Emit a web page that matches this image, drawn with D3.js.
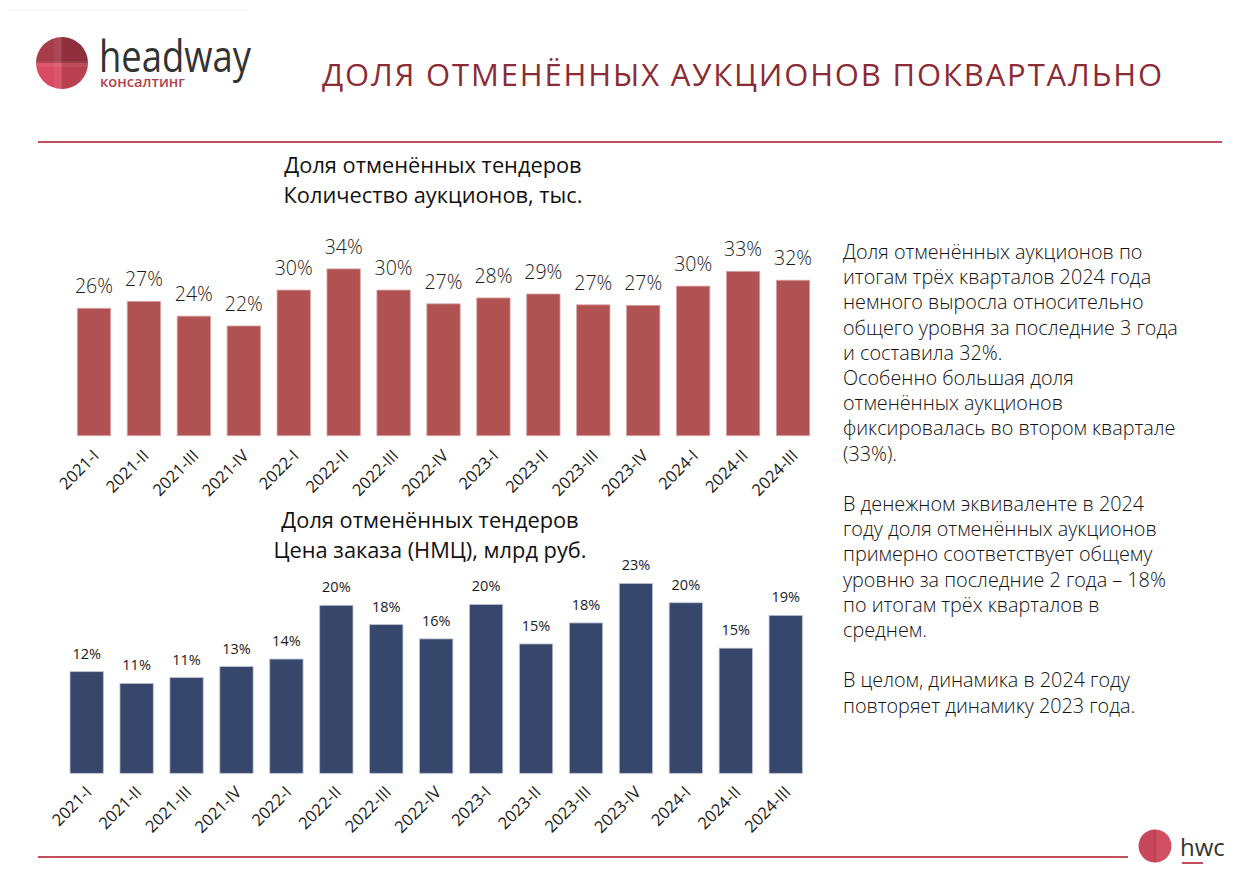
<!DOCTYPE html>
<html>
<head>
<meta charset="utf-8">
<script src="https://cdn.jsdelivr.net/npm/d3@7"></script>
<style>
  body { margin: 0; background: #fff; }
  svg { display: block; font-family: "Open Sans", "Noto Sans", sans-serif; }
  .barLabel { fill: #1a1a1a; text-anchor: middle; }
  .heading { fill: #111; text-anchor: middle; font-size: 21.8px; }
  .note { fill: #111; font-size: 19.8px; font-weight: 300; }
</style>
</head>
<body>
<div id="slide"></div>
<script>
// Доля отменённых аукционов поквартально

// data
var quarters = ["2021-I", "2021-II", "2021-III", "2021-IV",
  "2022-I", "2022-II", "2022-III", "2022-IV",
  "2023-I", "2023-II", "2023-III", "2023-IV",
  "2024-I", "2024-II", "2024-III"];
// share of cancelled auctions by count, %
var shareCount = [25.9, 27.3, 24.3, 22.3, 29.6, 33.9, 29.6, 26.8, 28.0, 28.8, 26.6, 26.5, 30.4, 33.4, 31.6];
// share of cancelled auctions by order price, %
var sharePrice = [12.1, 10.7, 11.4, 12.7, 13.6, 20.0, 17.7, 16.0, 20.1, 15.4, 17.9, 22.6, 20.3, 14.9, 18.8];

var titleText = "ДОЛЯ ОТМЕНЁННЫХ АУКЦИОНОВ ПОКВАРТАЛЬНО";
var topHeading = ["Доля отменённых тендеров", "Количество аукционов, тыс."];
var bottomHeading = ["Доля отменённых тендеров", "Цена заказа (НМЦ), млрд руб."];
var noteLines = [
  "Доля отменённых аукционов по",
  "итогам трёх кварталов 2024 года",
  "немного выросла относительно",
  "общего уровня за последние 3 года",
  "и составила 32%.",
  "Особенно большая доля",
  "отменённых аукционов",
  "фиксировалась во втором квартале",
  "(33%).",
  "",
  "В денежном эквиваленте в 2024",
  "году доля отменённых аукционов",
  "примерно соответствует общему",
  "уровню за последние 2 года – 18%",
  "по итогам трёх кварталов в",
  "среднем.",
  "",
  "В целом, динамика в 2024 году",
  "повторяет динамику 2023 года."
];

var svgWidth = 1247;
var svgHeight = 875;

var svg = d3.select("#slide")
  .append("svg")
  .attr("width", svgWidth)
  .attr("height", svgHeight);

// header: logo, title, rules
//=================================
svg.append("line")
  .attr("x1", 8).attr("x2", 247).attr("y1", 10).attr("y2", 10)
  .attr("stroke", "#eeeeee").attr("stroke-width", 1);

var logo = svg.append("g").attr("transform", "translate(62,63)");
var r = 26;
// four quarters of the logo circle (d3 angles: 0 = 12 o'clock, clockwise)
var quads = [
  { a0: 0, a1: Math.PI / 2, c: "#8f2f3d" },               // top right
  { a0: Math.PI / 2, a1: Math.PI, c: "#b8404f" },         // bottom right
  { a0: Math.PI, a1: Math.PI * 1.5, c: "#d94b62" },       // bottom left
  { a0: Math.PI * 1.5, a1: Math.PI * 2, c: "#a63b4a" }    // top left
];
logo.selectAll("path")
  .data(quads)
  .enter()
  .append("path")
  .attr("d", d => d3.arc()({ innerRadius: 0, outerRadius: r, startAngle: d.a0, endAngle: d.a1 }))
  .attr("fill", d => d.c);
// thin cross bands
logo.append("rect").attr("x", -8).attr("y", -r).attr("width", 7).attr("height", 2 * r)
  .attr("fill", "#ffffff").attr("opacity", 0.07);
logo.append("rect").attr("x", -r).attr("y", -2).attr("width", 2 * r).attr("height", 6)
  .attr("fill", "#ffffff").attr("opacity", 0.07);

svg.append("text")
  .attr("x", 99).attr("y", 72)
  .attr("font-size", 43).attr("font-weight", 500)
  .attr("fill", "#333333")
  .attr("textLength", 152)
  .attr("lengthAdjust", "spacingAndGlyphs")
  .text("headway");
svg.append("text")
  .attr("x", 100).attr("y", 87)
  .attr("font-size", 14).attr("font-weight", 600)
  .attr("fill", "#b23f4e")
  .attr("textLength", 85)
  .attr("lengthAdjust", "spacingAndGlyphs")
  .text("консалтинг");

svg.append("text")
  .attr("x", 322).attr("y", 86)
  .attr("font-size", 31)
  .attr("fill", "#8b2b35")
  .attr("textLength", 840)
  .attr("lengthAdjust", "spacing")
  .text(titleText);

svg.append("line")
  .attr("x1", 38).attr("x2", 1222).attr("y1", 142).attr("y2", 142)
  .attr("stroke", "#c0505c").attr("stroke-width", 2);

svg.append("line")
  .attr("x1", 38).attr("x2", 1128).attr("y1", 857).attr("y2", 857)
  .attr("stroke", "#c0505c").attr("stroke-width", 2);

// hwc logo bottom right
var hwc = svg.append("g").attr("transform", "translate(1155,846)");
hwc.append("path")
  .attr("d", d3.arc()({ innerRadius: 0, outerRadius: 16.5, startAngle: Math.PI, endAngle: Math.PI * 2 }))
  .attr("fill", "#c9475d");
hwc.append("path")
  .attr("d", d3.arc()({ innerRadius: 0, outerRadius: 16.5, startAngle: 0, endAngle: Math.PI }))
  .attr("fill", "#d24f63");
hwc.append("line").attr("x1", 0).attr("x2", 0).attr("y1", -16).attr("y2", 16)
  .attr("stroke", "#a83446").attr("stroke-width", 1);
svg.append("text")
  .attr("x", 1180).attr("y", 856)
  .attr("font-size", 24).attr("fill", "#333333")
  .text("hwc");
svg.append("line")
  .attr("x1", 1182).attr("x2", 1203).attr("y1", 863).attr("y2", 863)
  .attr("stroke", "#c0505c").attr("stroke-width", 2);

// helper to draw one bar chart
//=================================
function drawBars(cfg) {
  var x = d3.scaleBand()
    .domain(quarters)
    .range(cfg.xRange)
    .padding(0.333);

  var y = d3.scaleLinear()
    .domain([0, cfg.yMax])
    .range([cfg.baseline, cfg.baseline - cfg.yMax * cfg.pxPer]);

  var g = svg.append("g");

  g.selectAll("rect")
    .data(cfg.values)
    .enter()
    .append("rect")
    .attr("x", (d, i) => x(quarters[i]))
    .attr("y", d => y(d))
    .attr("width", x.bandwidth())
    .attr("height", d => y(0) - y(d))
    .attr("fill", cfg.color)
    .attr("stroke", cfg.edge)
    .attr("stroke-width", 0.8);

  g.selectAll(".barLabel")
    .data(cfg.values)
    .enter()
    .append("text")
    .attr("class", "barLabel")
    .attr("x", (d, i) => x(quarters[i]) + x.bandwidth() / 2)
    .attr("y", d => y(d) - cfg.labelGap)
    .attr("font-size", cfg.labelSize)
    .attr("font-weight", cfg.labelWeight)
    .text(d => Math.round(d) + "%");

  // rotated category labels
  var axis = d3.axisBottom(x).tickSize(0).tickPadding(0);
  var ax = g.append("g")
    .attr("transform", "translate(0," + cfg.baseline + ")")
    .call(axis);
  ax.select(".domain").remove();
  ax.selectAll(".tick text")
    .attr("font-family", "Open Sans, sans-serif")
    .attr("font-size", 16.5)
    .attr("fill", "#1a1a1a")
    .attr("text-anchor", "end")
    .attr("dy", null)
    .attr("y", 0)
    .attr("transform", "translate(" + cfg.tickDx + "," + cfg.tickDy + ") rotate(-45)");

  // heading
  g.selectAll(".heading")
    .data(cfg.heading)
    .enter()
    .append("text")
    .attr("class", "heading")
    .attr("x", cfg.headX)
    .attr("y", (d, i) => cfg.headY + i * 30)
    .text(d => d);
}

drawBars({
  values: shareCount,
  xRange: [60.7, 826.3],
  baseline: 435.7,
  yMax: 40,
  pxPer: 4.92,
  color: "#b05252",
  edge: "#d9a3a3",
  labelGap: 15,
  labelSize: 19.5,
  labelWeight: 300,
  tickDx: 6,
  tickDy: 21,
  heading: topHeading,
  headX: 433,
  headY: 173
});

drawBars({
  values: sharePrice,
  xRange: [53.4, 819],
  baseline: 773.3,
  yMax: 25,
  pxPer: 8.4,
  color: "#37466b",
  edge: "#b9c2d6",
  labelGap: 13,
  labelSize: 14.5,
  labelWeight: 400,
  tickDx: 6,
  tickDy: 20,
  heading: bottomHeading,
  headX: 430,
  headY: 528
});

// commentary on the right
//=================================
svg.selectAll(".note")
  .data(noteLines)
  .enter()
  .append("text")
  .attr("class", "note")
  .attr("x", 843)
  .attr("y", (d, i) => 259 + i * 25.2)
  .text(d => d);
</script>
</body>
</html>
